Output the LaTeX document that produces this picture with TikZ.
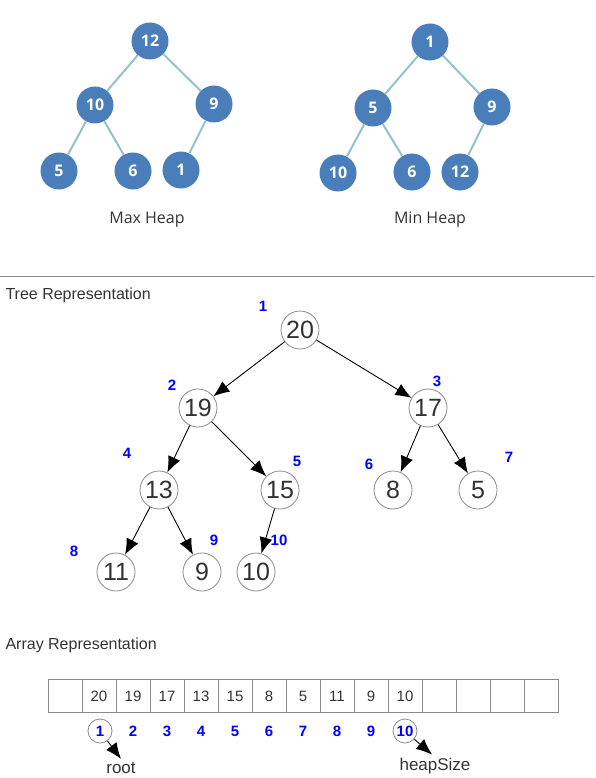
\documentclass[tikz,border=0pt]{standalone}
\usepackage{fontspec}
\setmainfont{Liberation Sans}
\newfontfamily\heapfont{Open Sans}
\usepackage{xcolor}
\usetikzlibrary{arrows.meta,positioning}
\definecolor{heapblue}{HTML}{4A7EBB}
\definecolor{heapline}{HTML}{93C2C8}
\definecolor{txtgray}{HTML}{333333}
\definecolor{ringgray}{HTML}{8A8A8A}

\begin{document}
\begin{tikzpicture}[x=1pt,y=-1pt,
	heapnode/.style={circle,fill=heapblue,minimum size=37pt,inner sep=0pt,text=white,font=\heapfont\bfseries\fontsize{16}{16}\selectfont},
	heapedge/.style={heapline,line width=2pt},
	heapname/.style={text=txtgray,font=\heapfont\fontsize{16}{16}\selectfont},
	treenode/.style={circle,draw=ringgray,line width=0.8pt,minimum size=38pt,inner sep=0pt,text=txtgray,font=\fontsize{25}{25}\selectfont},
	idx/.style={text=blue,font=\bfseries\fontsize{15}{15}\selectfont},
	ring/.style={circle,draw=ringgray,line width=0.8pt,minimum size=24pt,inner sep=0pt},
	arrow/.style={black,line width=0.9pt,-{Latex[length=16pt,width=13pt]}},
	cell/.style={draw=ringgray,line width=1pt,minimum width=34pt,minimum height=33pt,inner sep=0pt,text=txtgray,font=\fontsize{15}{15}\selectfont},
	caption/.style={anchor=west,text=txtgray,font=\fontsize{16}{16}\selectfont}]
		\useasboundingbox (0,0) rectangle (595,778);
		% max heap
		\node[heapnode] (mx1) at (150,41) {12};
		\node[heapnode] (mx2) at (95,105) {10};
		\node[heapnode] (mx3) at (214,104) {9};
		\node[heapnode] (mx4) at (59,171) {5};
		\node[heapnode] (mx5) at (133,171) {6};
		\node[heapnode] (mx6) at (181,170) {1};
		\draw[heapedge] (mx1) -- (mx2);
		\draw[heapedge] (mx1) -- (mx3);
		\draw[heapedge] (mx2) -- (mx4);
		\draw[heapedge] (mx2) -- (mx5);
		\draw[heapedge] (mx3) -- (mx6);
		\node[heapname] (mxname) at (147,220) {Max Heap};
		% min heap
		\node[heapnode] (mn1) at (430,42) {1};
		\node[heapnode] (mn2) at (373,108) {5};
		\node[heapnode] (mn3) at (492,107) {9};
		\node[heapnode] (mn4) at (338,173) {10};
		\node[heapnode] (mn5) at (412,172) {6};
		\node[heapnode] (mn6) at (460,172) {12};
		\draw[heapedge] (mn1) -- (mn2);
		\draw[heapedge] (mn1) -- (mn3);
		\draw[heapedge] (mn2) -- (mn4);
		\draw[heapedge] (mn2) -- (mn5);
		\draw[heapedge] (mn3) -- (mn6);
		\node[heapname] (mnname) at (430,220) {Min Heap};
		\draw[ringgray,line width=1pt] (0,276) -- (595,276);
		% tree representation
		\node[caption] (treecap) at (2,295) {Tree Representation};
		\node[treenode] (n1) at (300,330) {20};
		\node[treenode] (n2) at (198,408) {19};
		\node[treenode] (n3) at (428,408) {17};
		\node[treenode] (n4) at (159,490) {13};
		\node[treenode] (n5) at (280,490) {15};
		\node[treenode] (n6) at (393,490) {8};
		\node[treenode] (n7) at (478,490) {5};
		\node[treenode] (n8) at (116,572) {11};
		\node[treenode] (n9) at (202,572) {9};
		\node[treenode] (n10) at (256,572) {10};
		\draw[arrow] (n1) -- (n2);
		\draw[arrow] (n1) -- (n3);
		\draw[arrow] (n2) -- (n4);
		\draw[arrow] (n2) -- (n5);
		\draw[arrow] (n3) -- (n6);
		\draw[arrow] (n3) -- (n7);
		\draw[arrow] (n4) -- (n8);
		\draw[arrow] (n4) -- (n9);
		\draw[arrow] (n5) -- (n10);
		\node[idx] (l1) at (263,306) {1};
		\node[idx] (l2) at (172,385) {2};
		\node[idx] (l3) at (437,381) {3};
		\node[idx] (l4) at (127,453) {4};
		\node[idx] (l5) at (297,461) {5};
		\node[idx] (l6) at (369,464) {6};
		\node[idx] (l7) at (509,457) {7};
		\node[idx] (l8) at (74,551) {8};
		\node[idx] (l9) at (214,540) {9};
		\node[idx] (l10) at (279,540) {10};
		% array representation
		\node[caption] (arraycap) at (2,645) {Array Representation};
		\foreach \v [count=\i from 0] in {{},20,19,17,13,15,8,5,11,9,10,{},{},{},{}}
		\node[cell] (c\i) at (65+34*\i,696) {\v};
		\foreach \i in {2,...,9}
		\node[idx] (i\i) at (65+34*\i,731) {\i};
		\node[idx,ring] (i1) at (100,731) {1};
		\node[idx,ring] (i10) at (405,731) {10};
		\node[text=txtgray,font=\fontsize{17}{17}\selectfont] (root) at (121,768) {root};
		\node[text=txtgray,font=\fontsize{17}{17}\selectfont] (heapsize) at (435,766) {heapSize};
		\draw[arrow] (i1) -- (root.north);
		\draw[arrow] (i10) -- ([xshift=-3pt]heapsize.north);
\end{tikzpicture}
\end{document}
